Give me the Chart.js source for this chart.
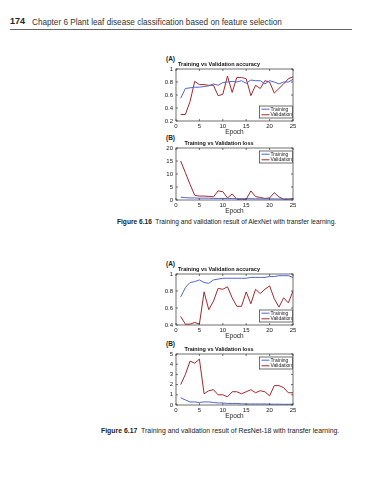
<!DOCTYPE html>
<html>
<head>
<meta charset="utf-8">
<script src="https://cdn.jsdelivr.net/npm/chart.js@4.4.0/dist/chart.umd.min.js"></script>
<style>
body { margin: 0; background: #fff; width: 389px; height: 480px; position: relative; overflow: hidden; font-family: "Liberation Sans", Arial, sans-serif; color: #222; }
.t { position: absolute; white-space: nowrap; line-height: 1; }
canvas { position: absolute; }
</style>
</head>
<body>
<div class="t" style="left:10px;top:17px;font-size:9px;font-weight:bold">174</div>
<div class="t" style="left:32px;top:18.5px;font-size:8.2px;color:#333">Chapter 6 Plant leaf disease classification based on feature selection</div>
<div style="position:absolute;left:10px;top:29px;width:342px;border-top:0.6px solid #666"></div>

<div class="t" style="left:166px;top:56px;font-size:6.5px;font-weight:bold">(A)</div>
<div class="t" style="left:166px;top:135px;font-size:6.5px;font-weight:bold">(B)</div>
<div class="t" style="left:117px;top:219px;font-size:6.6px"><b>Figure 6.16</b>&nbsp; Training and validation result of AlexNet with transfer learning.</div>

<div class="t" style="left:166px;top:261px;font-size:6.5px;font-weight:bold">(A)</div>
<div class="t" style="left:166px;top:341px;font-size:6.5px;font-weight:bold">(B)</div>
<div class="t" style="left:101px;top:428px;font-size:6.9px"><b>Figure 6.17</b>&nbsp; Training and validation result of ResNet-18 with transfer learning.</div>

<canvas id="c1" style="left:145px;top:60px" width="160" height="78"></canvas>
<canvas id="c2" style="left:145px;top:139px" width="160" height="78"></canvas>
<canvas id="c3" style="left:145px;top:265px" width="160" height="77"></canvas>
<canvas id="c4" style="left:145px;top:345px" width="160" height="77"></canvas>

<script>
// epochs and readings
let epochs = [1, 2, 3, 4, 5, 6, 7, 8, 9, 10, 11, 12, 13, 14, 15, 16, 17, 18, 19, 20, 21, 22, 23, 24, 25];
let xTicks = [0, 5, 10, 15, 20, 25];

// AlexNet
let alexTrainAcc = [0.55, 0.70, 0.71, 0.72, 0.72, 0.73, 0.74, 0.77, 0.75, 0.79, 0.80, 0.81, 0.80, 0.82, 0.78, 0.83, 0.82, 0.82, 0.77, 0.82, 0.80, 0.77, 0.80, 0.80, 0.84];
let alexValAcc = [0.30, 0.30, 0.50, 0.81, 0.76, 0.76, 0.75, 0.75, 0.59, 0.61, 0.89, 0.64, 0.87, 0.87, 0.85, 0.59, 0.75, 0.70, 0.82, 0.80, 0.63, 0.70, 0.77, 0.85, 0.88];
let alexTrainLoss = [1.1, 0.9, 0.8, 0.8, 0.7, 0.7, 0.7, 0.6, 0.6, 0.6, 0.55, 0.55, 0.5, 0.5, 0.5, 0.5, 0.45, 0.45, 0.45, 0.45, 0.45, 0.4, 0.4, 0.4, 0.4];
let alexValLoss = [15.0, 10.5, 6.0, 1.8, 1.5, 1.5, 1.4, 1.2, 3.5, 3.2, 0.8, 2.3, 0.3, 0.3, 0.3, 3.5, 1.3, 1.0, 0.6, 0.8, 2.8, 1.2, 0.3, 0.3, 0.6];

// ResNet-18
let resTrainAcc = [0.73, 0.84, 0.90, 0.91, 0.93, 0.90, 0.89, 0.93, 0.94, 0.95, 0.95, 0.95, 0.95, 0.95, 0.95, 0.96, 0.96, 0.96, 0.96, 0.97, 0.97, 0.98, 0.98, 0.98, 0.96];
let resValAcc = [0.50, 0.41, 0.41, 0.43, 0.41, 0.79, 0.58, 0.68, 0.83, 0.82, 0.85, 0.72, 0.62, 0.62, 0.79, 0.65, 0.82, 0.77, 0.82, 0.86, 0.71, 0.61, 0.72, 0.66, 0.80];
let resTrainLoss = [0.7, 0.5, 0.3, 0.3, 0.25, 0.3, 0.3, 0.25, 0.2, 0.2, 0.15, 0.15, 0.15, 0.12, 0.1, 0.1, 0.1, 0.1, 0.1, 0.08, 0.08, 0.08, 0.07, 0.07, 0.07];
let resValLoss = [2.0, 3.0, 4.3, 4.1, 4.5, 1.1, 1.4, 1.5, 1.0, 1.0, 0.8, 1.3, 1.3, 1.1, 1.3, 1.5, 1.2, 1.4, 1.3, 0.9, 1.9, 1.9, 1.7, 1.2, 1.2];

let alexAccTicks = [0.2, 0.4, 0.6, 0.8, 1];
let alexLossTicks = [0, 5, 10, 15, 20];
let resAccTicks = [0.4, 0.6, 0.8, 1];
let resLossTicks = [0, 1, 2, 3, 4, 5];

let trainColor = '#5064d2';
let valColor = '#a3282c';
let FONT = '"Liberation Sans", Arial, sans-serif';

// matlab-ish box, inward ticks and the little legend inside the axes
let frame = {
    id: 'frame',
    afterDatasetsDraw(chart, args, opts) {
        let ctx = chart.ctx;
        let a = chart.chartArea;
        let sx = chart.scales.x, sy = chart.scales.y;
        ctx.save();
        ctx.strokeStyle = '#333';
        ctx.lineWidth = 0.7;
        ctx.strokeRect(a.left, a.top, a.right - a.left, a.bottom - a.top);
        ctx.beginPath();
        sx.ticks.forEach(t => {
            let px = sx.getPixelForValue(t.value);
            ctx.moveTo(px, a.bottom); ctx.lineTo(px, a.bottom - 2);
            ctx.moveTo(px, a.top); ctx.lineTo(px, a.top + 2);
        });
        sy.ticks.forEach(t => {
            let py = sy.getPixelForValue(t.value);
            ctx.moveTo(a.left, py); ctx.lineTo(a.left + 2, py);
            ctx.moveTo(a.right, py); ctx.lineTo(a.right - 2, py);
        });
        ctx.stroke();

        let w = 33, h = 12;
        let x = a.right - w - 0.5;
        let y = opts.corner === 'top' ? a.top + 3 : a.bottom - h - 3;
        ctx.fillStyle = '#fff';
        ctx.fillRect(x, y, w, h);
        ctx.strokeRect(x, y, w, h);
        ctx.font = '5px ' + FONT;
        ctx.textBaseline = 'middle';
        chart.data.datasets.forEach((ds, i) => {
            let ly = y + 3.2 + i * 5.6;
            ctx.strokeStyle = ds.borderColor;
            ctx.lineWidth = 1;
            ctx.beginPath();
            ctx.moveTo(x + 2, ly);
            ctx.lineTo(x + 10, ly);
            ctx.stroke();
            ctx.fillStyle = '#222';
            ctx.fillText(ds.label, x + 11, ly + 0.3);
        });
        ctx.restore();
    }
};

function makeChart(id, title, train, val, yTicks, corner) {
    let ctx = document.getElementById(id).getContext('2d');
    return new Chart(ctx, {
        type: 'line',
        data: {
            datasets: [{
                label: 'Training',
                data: epochs.map((e, i) => ({ x: e, y: train[i] })),
                borderColor: trainColor,
                borderWidth: 1,
                pointRadius: 0
            }, {
                label: 'Validation',
                data: epochs.map((e, i) => ({ x: e, y: val[i] })),
                borderColor: valColor,
                borderWidth: 1,
                pointRadius: 0
            }]
        },
        options: {
            responsive: false,
            animation: false,
            layout: { padding: { left: 0, right: 12, top: 0, bottom: 0 } },
            plugins: {
                legend: { display: false },
                tooltip: { enabled: false },
                title: {
                    display: true,
                    text: title,
                    color: '#111',
                    font: { family: FONT, size: 5.5, weight: 'bold', lineHeight: 1.2 },
                    padding: { top: 1, bottom: 1.4 }
                },
                frame: { corner: corner }
            },
            scales: {
                x: {
                    type: 'linear',
                    min: xTicks[0],
                    max: xTicks[xTicks.length - 1],
                    afterBuildTicks: s => { s.ticks = xTicks.map(v => ({ value: v })); },
                    afterFit: s => { s.height = 17; },
                    grid: { display: false, drawTicks: false },
                    border: { display: false },
                    ticks: { color: '#222', font: { family: FONT, size: 6 }, padding: 1.5, maxRotation: 0 },
                    title: { display: true, text: 'Epoch', color: '#222', font: { family: FONT, size: 6.5, lineHeight: 1.2 }, padding: { top: 0, bottom: 2 } }
                },
                y: {
                    min: yTicks[0],
                    max: yTicks[yTicks.length - 1],
                    afterBuildTicks: s => { s.ticks = yTicks.map(v => ({ value: v })); },
                    afterFit: s => { s.width = 31; },
                    grid: { display: false, drawTicks: false },
                    border: { display: false },
                    ticks: { color: '#222', font: { family: FONT, size: 6 }, padding: 3, callback: v => String(+v.toFixed(2)) }
                }
            }
        },
        plugins: [frame]
    });
}

makeChart('c1', 'Training vs Validation accuracy', alexTrainAcc, alexValAcc, alexAccTicks, 'bottom');
makeChart('c2', 'Training vs Validation loss', alexTrainLoss, alexValLoss, alexLossTicks, 'top');
makeChart('c3', 'Training vs Validation accuracy', resTrainAcc, resValAcc, resAccTicks, 'bottom');
makeChart('c4', 'Training vs Validation loss', resTrainLoss, resValLoss, resLossTicks, 'top');
</script>
</body>
</html>
